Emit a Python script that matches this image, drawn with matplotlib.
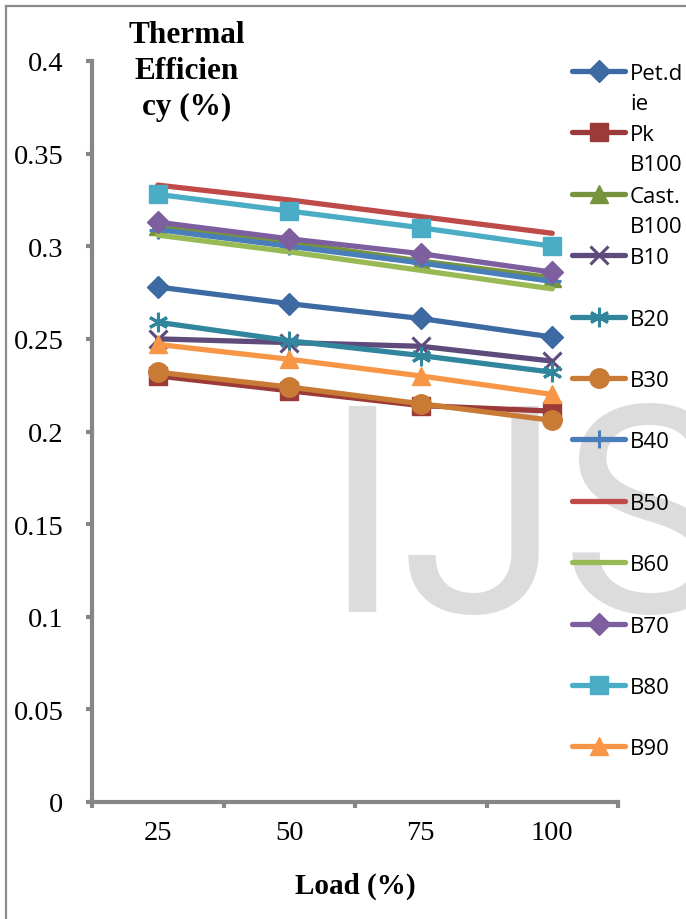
import matplotlib
matplotlib.use("Agg")
import matplotlib.pyplot as plt
from matplotlib.lines import Line2D

# data
loads = ["25", "50", "75", "100"]
names = ["Pet.d\nie", "Pk\nB100", "Cast.\nB100", "B10", "B20", "B30",
         "B40", "B50", "B60", "B70", "B80", "B90"]
pet_die = [0.278, 0.269, 0.261, 0.251]
pk_b100 = [0.230, 0.222, 0.214, 0.211]
cast_b100 = [0.311, 0.302, 0.292, 0.283]
b10 = [0.250, 0.248, 0.246, 0.238]
b20 = [0.259, 0.249, 0.241, 0.232]
b30 = [0.232, 0.224, 0.215, 0.206]
b40 = [0.309, 0.300, 0.291, 0.281]
b50 = [0.333, 0.325, 0.316, 0.307]
b60 = [0.306, 0.297, 0.287, 0.277]
b70 = [0.313, 0.304, 0.296, 0.286]
b80 = [0.328, 0.319, 0.310, 0.300]
b90 = [0.247, 0.239, 0.230, 0.220]
series = [pet_die, pk_b100, cast_b100, b10, b20, b30, b40, b50, b60, b70, b80, b90]

colors = ["#3D6AA2", "#9B3A38", "#77933C", "#5F4B7B", "#31859C", "#C97B36",
          "#4A7EBB", "#BE4B48", "#98B954", "#7D5FA0", "#4BACC6", "#F79646"]
markers = ["D", "s", "^", "x", (6, 2, 0), "o", "+", "None", "None", "D", "s", "^"]
msizes = [11.5, 13, 13, 13, 14, 14, 13, 0, 0, 11.5, 13, 13]


def mew(m):
    return 2.2 if m in ("x", "+") or isinstance(m, tuple) else 1


W, H = 686, 920
fig = plt.figure(figsize=(W / 100, H / 100), dpi=100)

# watermark
fig.text(322 / W, 1 - 612 / H, "IJS", fontsize=209, color="#DCDCDC",
         family="Roboto", va="baseline", ha="left", zorder=-1)

# outer frame (cropped on right and bottom)
fig.add_artist(Line2D([6 / W, 6 / W], [0, 1 - 7 / H], color="#8C8C8C", lw=1.6))
fig.add_artist(Line2D([6 / W, 1], [1 - 7 / H, 1 - 7 / H], color="#8C8C8C", lw=1.6))

ax = fig.add_axes([92 / W, 1 - 803 / H, (618 - 92) / W, (803 - 62) / H])
ax.patch.set_visible(False)

x = list(range(len(loads)))
for vals, c, m, ms in zip(series, colors, markers, msizes):
    ax.plot(x, vals, color=c, lw=3.8, marker=m, markersize=ms, markeredgewidth=mew(m),
            markerfacecolor=c, markeredgecolor=c, solid_capstyle="round")

ax.set_xlim(-0.5, 3.5)
ax.set_ylim(0, 0.4)
ax.set_yticks([i * 0.05 for i in range(9)])
ax.set_yticklabels(["0", "0.05", "0.1", "0.15", "0.2", "0.25", "0.3", "0.35", "0.4"],
                   family="Liberation Serif", fontsize=20.5)
ax.set_xticks([-0.5, 0.5, 1.5, 2.5, 3.5])
ax.set_xticklabels([])
ax.set_xticks(x, minor=True)
ax.set_xticklabels(loads, minor=True, family="Liberation Serif", fontsize=20.5)
ax.tick_params(axis="x", which="minor", length=0, pad=13)
ax.tick_params(axis="x", which="major", length=4.5, width=3, color="#868686", direction="out")
ax.tick_params(axis="y", length=4.5, width=3, color="#868686", direction="out", pad=16)
for s in ["top", "right"]:
    ax.spines[s].set_visible(False)
for s in ["left", "bottom"]:
    ax.spines[s].set_color("#868686")
    ax.spines[s].set_linewidth(3)

# title and axis label
fig.text(187 / W, 1 - 21 / H, "Thermal\nEfficien\ncy (%)", ha="center", va="top",
         family="Liberation Serif", fontweight="bold", fontsize=22.5, linespacing=1.32)
fig.text(355 / W, 1 - 886 / H, "Load (%)", ha="center", va="center",
         family="Liberation Serif", fontweight="bold", fontsize=21)

# legend on the right, wrapped labels hang below the handle
for i, (name, c, m, ms) in enumerate(zip(names, colors, markers, msizes)):
    yy = 1 - (72 + i * 61.4) / H
    fig.add_artist(Line2D([572 / W, 625 / W], [yy, yy], color=c, lw=3.8,
                          solid_capstyle="round"))
    if m != "None":
        fig.add_artist(Line2D([598.5 / W], [yy], color=c, marker=m, markersize=ms,
                              markeredgewidth=mew(m), markerfacecolor=c, markeredgecolor=c))
    for j, part in enumerate(name.split("\n")):
        fig.text(630 / W, yy - (8 + j * 30) / H, part, ha="left", va="baseline",
                 family="Open Sans", fontsize=16, color="black")

fig.savefig("out.png", dpi=100)
